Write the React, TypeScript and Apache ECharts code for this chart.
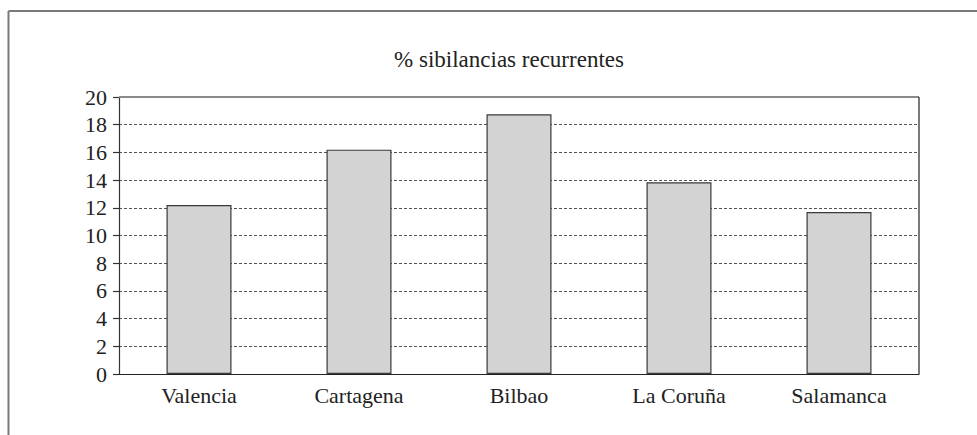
import React, { useEffect, useRef } from "react";
import * as echarts from "echarts";

const categories = ["Valencia", "Cartagena", "Bilbao", "La Coruña", "Salamanca"];
const values = [12.2, 16.2, 18.75, 13.85, 11.7];
const titleText = "% sibilancias recurrentes";
const yMin = 0;
const yMax = 20;
const yStep = 2;

const FONT = "Liberation Serif, serif";

export default function App() {
  const ref = useRef<HTMLDivElement>(null);
  useEffect(() => {
    if (!ref.current) return;
    const chart = echarts.init(ref.current, undefined, { renderer: "svg" });
    chart.setOption({
      animation: false,
      backgroundColor: "#ffffff",
      textStyle: { fontFamily: FONT },
      graphic: [
        {
          type: "line",
          shape: { x1: 8.5, y1: 11, x2: 977, y2: 11 },
          style: { stroke: "#7a7a7a", lineWidth: 2 },
        },
        {
          type: "line",
          shape: { x1: 8.5, y1: 11, x2: 8.5, y2: 435 },
          style: { stroke: "#7a7a7a", lineWidth: 2 },
        },
        {
          type: "line",
          shape: { x1: 119, y1: 97, x2: 919, y2: 97 },
          style: { stroke: "#8a8a8a", lineWidth: 2 },
          z: 5,
        },
        {
          type: "line",
          shape: { x1: 919, y1: 97, x2: 919, y2: 374 },
          style: { stroke: "#222", lineWidth: 1.2 },
          z: 5,
        },
        {
          type: "text",
          x: 509,
          y: 59,
          style: {
            text: titleText,
            fontSize: 23,
            fontFamily: FONT,
            fill: "#222",
            textAlign: "center",
            textVerticalAlign: "middle",
          },
        },
      ],
      grid: { left: 119, top: 97, width: 800, height: 277, containLabel: false },
      xAxis: {
        type: "category",
        data: categories,
        axisLine: { show: true, lineStyle: { color: "#222", width: 1.2 } },
        axisTick: { show: false },
        axisLabel: { color: "#222", fontSize: 22, fontFamily: FONT, margin: 10 },
        splitLine: { show: false },
      },
      yAxis: {
        type: "value",
        min: yMin,
        max: yMax,
        interval: yStep,
        axisLine: { show: true, lineStyle: { color: "#333", width: 1.2 } },
        axisTick: { show: true, inside: false, length: 6, lineStyle: { color: "#333", width: 1.2 } },
        axisLabel: { color: "#222", fontSize: 22, fontFamily: FONT, margin: 12 },
        splitLine: {
          show: true,
          showMinLine: false,
          showMaxLine: false,
          lineStyle: { color: "#555", type: [3, 2], width: 1 },
        },
      },
      series: [
        {
          type: "bar",
          data: values,
          barWidth: 65,
          itemStyle: { color: "#d3d3d4", borderColor: "#3a3a3a", borderWidth: 1.2 },
        },
      ],
    });
    return () => chart.dispose();
  }, []);
  return (
    <div
      ref={ref}
      style={{ position: "fixed", left: 0, top: 0, width: 977, height: 435 }}
    />
  );
}
